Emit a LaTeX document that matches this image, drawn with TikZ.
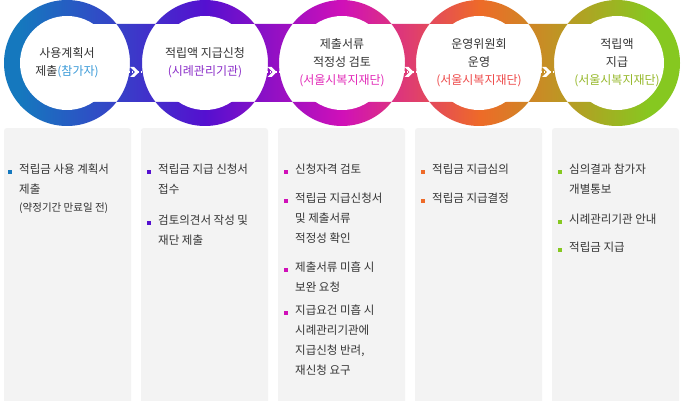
\documentclass[tikz,border=0pt]{standalone}
\usepackage{fontspec}
\setmainfont{Noto Sans CJK KR}
\usetikzlibrary{arrows.meta}
\definecolor{cA}{HTML}{1578BE}
\definecolor{cB}{HTML}{5510D0}
\definecolor{cC}{HTML}{D010B8}
\definecolor{cD}{HTML}{EE6A28}
\definecolor{cE}{HTML}{86C820}
\definecolor{tA}{HTML}{3A9AD8}
\definecolor{tB}{HTML}{8A2CC8}
\definecolor{tC}{HTML}{E22AB8}
\definecolor{tD}{HTML}{EE4A4A}
\definecolor{tE}{HTML}{96B82A}
\definecolor{boxg}{HTML}{F3F3F3}
\definecolor{txt}{HTML}{333333}
\tikzset{
  circtext/.style={font=\fontsize{12}{18}\selectfont, text=txt, align=center},
  coltext/.style={font=\fontsize{11.5}{20}\selectfont, text=txt, align=left, anchor=north west, inner sep=0pt},
  colbox/.style={fill=boxg, draw=none, rounded corners=3pt},
  dotline/.style={white, line width=1.2pt, dash pattern=on 1.2pt off 1.8pt}
}
\newcommand{\bul}[3]{\fill[#1] (#2-2,#3-2) rectangle (#2+2,#3+2);}
\begin{document}
\begin{tikzpicture}[x=1pt,y=-1pt]
\useasboundingbox (0,0) rectangle (682,401);
\fill[white] (0,0) rectangle (682,401);
% columns
\foreach \x in {4,141,278,415,552} \fill[colbox] (\x,128) rectangle (\x+127,405);
% band
\begin{scope}
\clip (67,63) circle (63) (205,63) circle (63) (342,63) circle (63) (479,63) circle (63) (617,63) circle (63)
  (67,24) rectangle (617,102);
\fill[cA] (0,0) rectangle (21,130);
\shade[left color=cA, right color=cB] (20,0) rectangle (205.5,130);
\shade[left color=cB, right color=cC] (205,0) rectangle (342.5,130);
\shade[left color=cC, right color=cD] (342,0) rectangle (479.5,130);
\shade[left color=cD, right color=cE] (479,0) rectangle (650.5,130);
\fill[cE] (650,0) rectangle (682,130);
\end{scope}
\foreach \x in {67,205,342,479,617} \fill[white] (\x,63) circle (47);
% nodes
\node[circtext] (n1) at (67,63) {사용계획서\\제출\textcolor{tA}{(참가자)}};
\node[circtext] (n2) at (205,63) {적립액 지급신청\\\textcolor{tB}{(시례관리기관)}};
\node[circtext] (n3) at (342,63) {제출서류\\적정성 검토\\\textcolor{tC}{(서울시복지재단)}};
\node[circtext] (n4) at (479,63) {운영위원회\\운영\\\textcolor{tD}{(서울시복지재단)}};
\node[circtext] (n5) at (617,63) {적립액\\지급\\\textcolor{tE}{(서울시복지재단)}};
\foreach \a/\b in {n1/n2,n2/n3,n3/n4,n4/n5}{
  \path (\a.center) ++(47,9) coordinate (s) (\b.center) ++(-47,9) coordinate (e);
  \draw[dotline] (s) -- (e);
  \path (s) -- (e) coordinate[pos=0.5] (m);
  \fill[white] ([xshift=-6pt,yshift=-5pt]m) -- ([xshift=-2pt,yshift=-5pt]m) -- ([xshift=3pt]m) -- ([xshift=-2pt,yshift=5pt]m) -- ([xshift=-6pt,yshift=5pt]m) -- ([xshift=-1pt]m) -- cycle;
}
% column 1
\bul{cA}{10}{172}
\node[coltext] (a1) at (19,164) {적립금 사용 계획서\\제출};
\node[coltext, font=\fontsize{10.5}{20}\selectfont] (a2) at (19,203) {(약정기간 만료일 전)};
% column 2
\bul{cB}{149}{172}
\node[coltext] (b1) at (158,164) {적립금 지급 신청서\\접수};
\bul{cB}{149}{223}
\node[coltext] (b2) at (158,215) {검토의견서 작성 및\\재단 제출};
% column 3
\bul{cC}{286}{172}
\node[coltext] (c1) at (295,164) {신청자격 검토};
\bul{cC}{286}{201}
\node[coltext] (c2) at (295,193) {적립금 지급신청서\\및 제출서류\\적정성 확인};
\bul{cC}{286}{270}
\node[coltext] (c3) at (295,262) {제출서류 미흡 시\\보완 요청};
\bul{cC}{286}{313}
\node[coltext] (c4) at (295,305) {지급요건 미흡 시\\시례관리기관에\\지급신청 반려,\\재신청 요구};
% column 4
\bul{cD}{423}{172}
\node[coltext] (d1) at (432,164) {적립금 지급심의};
\bul{cD}{423}{201}
\node[coltext] (d2) at (432,193) {적립금 지급결정};
% column 5
\bul{cE}{560}{172}
\node[coltext] (e1) at (569,164) {심의결과 참가자\\개별통보};
\bul{cE}{560}{222}
\node[coltext] (e2) at (569,214) {시례관리기관 안내};
\bul{cE}{560}{250}
\node[coltext] (e3) at (569,242) {적립금 지급};
\end{tikzpicture}
\end{document}
